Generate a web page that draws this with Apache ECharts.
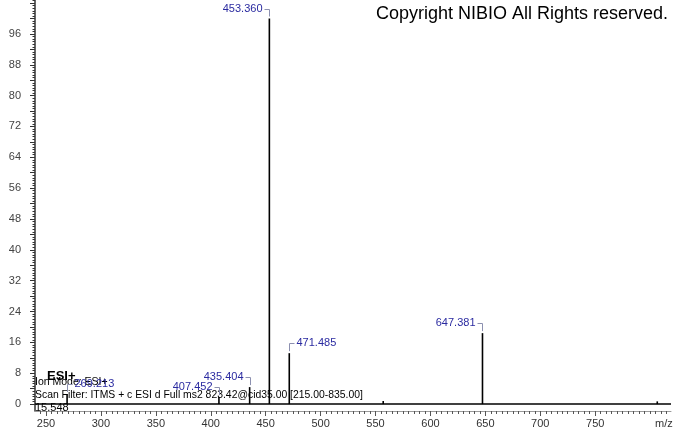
<!DOCTYPE html>
<html><head><meta charset="utf-8">
<script src="https://cdn.jsdelivr.net/npm/echarts@6/dist/echarts.min.js"></script>
<style>html,body{margin:0;padding:0;background:#fff}#c{width:673px;height:433px}</style>
</head><body><div id="c"></div>
<script>
// peak list (m/z, relative intensity)
const mz        = [269.213, 407.452, 435.404, 453.360, 471.485, 557.0, 647.381, 806.5];
const intensity = [2.6,     1.8,     4.4,     100,     13.2,    0.8,   18.4,    0.7];
// label side for annotated peaks ('' = no label)
const labelSide = ['right', 'left',  'left',  'left',  'right', '',    'left',  ''];
// tick labels
const xTickLabels = [250, 300, 350, 400, 450, 500, 550, 600, 650, 700, 750];
const yTickLabels = [0, 8, 16, 24, 32, 40, 48, 56, 64, 72, 80, 88, 96];

const xMin = 240, xMax = 819, yMin = -1.8, yMax = 104.8;
const xMinor = []; for (let v = 245; v <= 815; v += 5) xMinor.push(v);
const yMid = []; for (let v = 0; v <= 104; v += 4) yMid.push(v);
const yMinor = []; for (let i = 0; i <= 157; i++) yMinor.push(+(i * 4 / 6).toFixed(4));

const peakData = mz.map((m, i) => [m, intensity[i]]);
const labelData = [];
mz.forEach((m, i) => { if (labelSide[i]) labelData.push([m, intensity[i], labelSide[i] === 'left' ? 0 : 1]); });

const FONT = "'Liberation Sans', Arial, sans-serif";
const chart = echarts.init(document.getElementById('c'), null, {renderer: 'canvas'});
chart.setOption({
  animation: false,
  backgroundColor: '#fff',
  grid: {left: 35, right: 2, top: 0, bottom: 22, outerBoundsMode: 'none', containLabel: false},
  xAxis: [{
    type: 'value', min: xMin, max: xMax,
    axisLine: {show: true, onZero: false, lineStyle: {color: '#9a9a9a', width: 1}},
    axisTick: {show: true, customValues: xTickLabels, length: 5, lineStyle: {color: '#555'}},
    axisLabel: {customValues: xTickLabels, color: '#333', fontSize: 11, fontFamily: FONT, margin: 7},
    splitLine: {show: false}
  }, {
    type: 'value', min: xMin, max: xMax, position: 'bottom', offset: 0,
    axisLine: {show: false, onZero: false},
    axisTick: {show: true, customValues: xMinor, length: 3, lineStyle: {color: '#555'}},
    axisLabel: {show: false},
    splitLine: {show: false}
  }],
  yAxis: [{
    type: 'value', min: yMin, max: yMax,
    axisLine: {show: true, onZero: false, lineStyle: {color: '#333', width: 1.5}},
    axisTick: {show: true, customValues: yMid, length: 5, lineStyle: {color: '#333'}},
    axisLabel: {customValues: yTickLabels, color: '#444', fontSize: 11, fontFamily: FONT, margin: 14},
    splitLine: {show: false}
  }, {
    type: 'value', min: yMin, max: yMax, position: 'left', offset: 0,
    axisLine: {show: false, onZero: false},
    axisTick: {show: true, customValues: yMinor, length: 2.5, lineStyle: {color: '#333'}},
    axisLabel: {show: false},
    splitLine: {show: false}
  }],
  graphic: [
    {type: 'text', x: 376, y: 14, z: 0, style: {text: 'Copyright NIBIO All Rights reserved.', font: '18px ' + FONT, fill: '#000', verticalAlign: 'middle'}},
    {type: 'text', x: 47, y: 376, z: 0, style: {text: 'ESI+', font: 'bold 13px ' + FONT, fill: '#000', verticalAlign: 'middle'}},
    {type: 'text', x: 35, y: 382, z: 0, style: {text: 'Ion Mode: ESI+', font: '10.5px ' + FONT, fill: '#000', verticalAlign: 'middle'}},
    {type: 'text', x: 35, y: 395, z: 0, style: {text: 'Scan Filter: ITMS + c ESI d Full ms2 823.42@cid35.00 [215.00-835.00]', font: '10.4px ' + FONT, fill: '#000', verticalAlign: 'middle'}},
    {type: 'text', x: 35, y: 408, z: 0, style: {text: '15.548', font: '11px ' + FONT, fill: '#000', verticalAlign: 'middle'}},
    {type: 'text', x: 655, y: 424, z: 0, style: {text: 'm/z', font: '11px ' + FONT, fill: '#333', verticalAlign: 'middle'}}
  ],
  series: [{
    type: 'custom', xAxisIndex: 0, yAxisIndex: 0, data: peakData, z: 3,
    renderItem: (params, api) => {
      const x = api.value(0), y = api.value(1);
      const top = api.coord([x, y]), bot = api.coord([x, 0]);
      return {type: 'line', shape: {x1: top[0], y1: top[1], x2: bot[0], y2: bot[1]}, style: {stroke: '#000', lineWidth: 1.6}};
    },
    markLine: {
      silent: true, symbol: 'none', label: {show: false},
      lineStyle: {color: '#000', width: 1.5, type: 'solid'},
      data: [{yAxis: 0}]
    }
  }, {
    type: 'custom', xAxisIndex: 0, yAxisIndex: 0, data: labelData, z: 4,
    renderItem: (params, api) => {
      const x = api.value(0), y = api.value(1), right = api.value(2) === 1;
      const p = api.coord([x, y]);
      const px = Math.round(p[0]) + 0.5, hy = Math.round(p[1] - 10) + 0.5;
      const dir = right ? 1 : -1;
      return {type: 'group', children: [
        {type: 'polyline', shape: {points: [[px + dir * 5, hy], [px, hy], [px, p[1] - 2]]}, style: {stroke: '#8c90b0', lineWidth: 1, fill: null}},
        {type: 'text', style: {text: x.toFixed(3), x: px + dir * 7, y: hy - 1, align: right ? 'left' : 'right', verticalAlign: 'middle', font: '11px ' + FONT, fill: '#2a2aa0'}}
      ]};
    }
  }]
});
</script></body></html>
